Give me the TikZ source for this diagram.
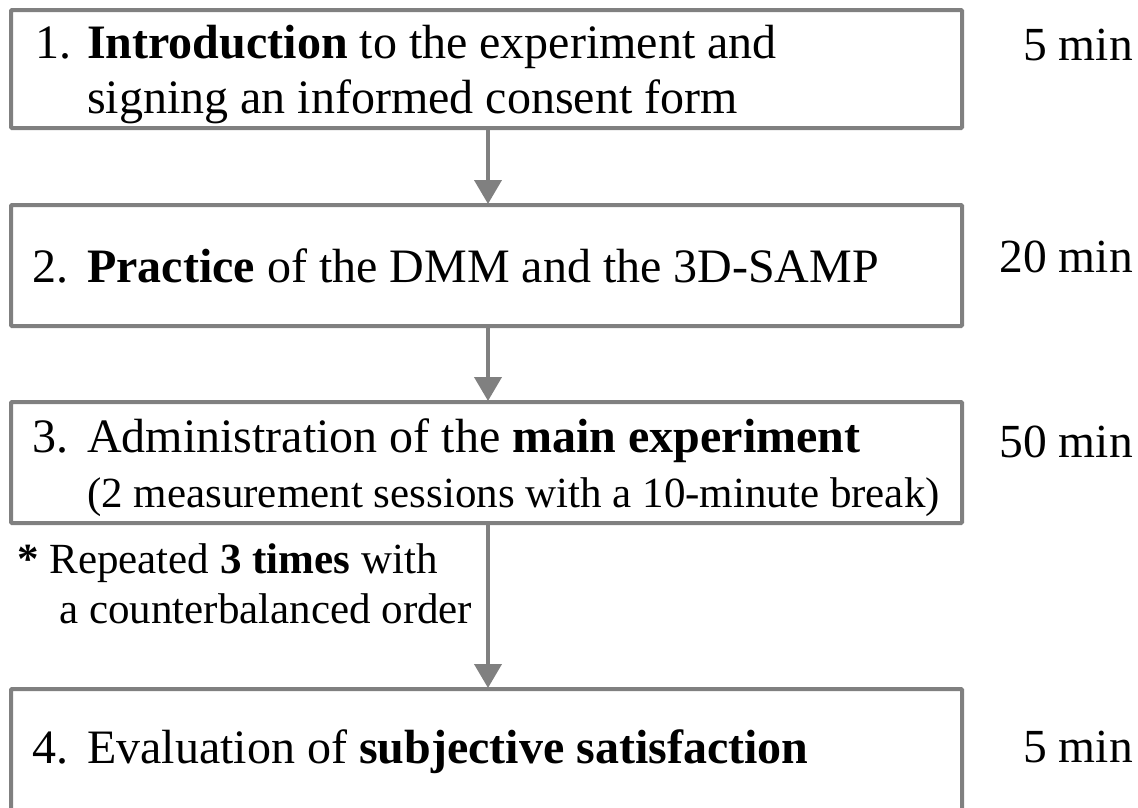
\documentclass[tikz,border=0pt]{standalone}
\usepackage{fontspec}
\setmainfont{Liberation Serif}
\usetikzlibrary{arrows.meta}
\definecolor{boxgray}{RGB}{128,128,128}
\tikzset{
  stepbox/.style={draw=boxgray, line width=4pt, minimum width=951pt, inner sep=0pt, rounded corners=1pt},
  txt/.style={anchor=base west, inner sep=0pt, font=\fontsize{48}{58}\selectfont},
  subtxt/.style={anchor=base west, inner sep=0pt, font=\fontsize{43}{50}\selectfont},
  timetxt/.style={anchor=base east, inner sep=0pt, font=\fontsize{47.5}{56}\selectfont},
  flow/.style={draw=boxgray, line width=4pt, -{Triangle[width=27pt,length=24pt]}, shorten >=-1pt}
}
\begin{document}
\begin{tikzpicture}[x=1pt,y=-1pt]
\useasboundingbox (0,0) rectangle (1138,807);
% boxes
\node[stepbox, minimum height=118pt] (b1) at (486.5,69) {};
\node[stepbox, minimum height=121pt] (b2) at (486.5,265.5) {};
\node[stepbox, minimum height=121pt] (b3) at (486.5,462.5) {};
\node[stepbox, minimum height=126pt] (b4) at (486.5,752) {};
% box 1 text
\node[txt] (n1) at (35,58) {1.};
\node[txt] (t1a) at (87,58) {\textbf{Introduction} to the experiment and};
\node[txt] (t1b) at (87,113) {signing an informed consent form};
% box 2 text
\node[txt] (n2) at (32,282) {2.};
\node[txt] (t2) at (87,282) {\textbf{Practice} of the DMM and the 3D-SAMP};
% box 3 text
\node[txt] (n3) at (32,452) {3.};
\node[txt] (t3a) at (87,452) {Administration of the \textbf{main experiment}};
\node[subtxt] (t3b) at (87,507) {(2 measurement sessions with a 10-minute break)};
% box 4 text
\node[txt] (n4) at (32,763) {4.};
\node[txt] (t4) at (87,763) {Evaluation of \textbf{subjective satisfaction}};
% note
\node[subtxt] (r1) at (17,573) {\textbf{*} Repeated \textbf{3 times} with};
\node[subtxt] (r2) at (59,623) {a counterbalanced order};
% times
\node[timetxt] (m1) at (1133,60) {5 min};
\node[timetxt] (m2) at (1133,272) {20 min};
\node[timetxt] (m3) at (1133,457) {50 min};
\node[timetxt] (m4) at (1133,762) {5 min};
% arrows
\coordinate (ax) at (488,0);
\draw[flow] (b1.south -| ax) -- (b2.north -| ax);
\draw[flow] (b2.south -| ax) -- (b3.north -| ax);
\draw[flow] (b3.south -| ax) -- (b4.north -| ax);
\end{tikzpicture}
\end{document}
